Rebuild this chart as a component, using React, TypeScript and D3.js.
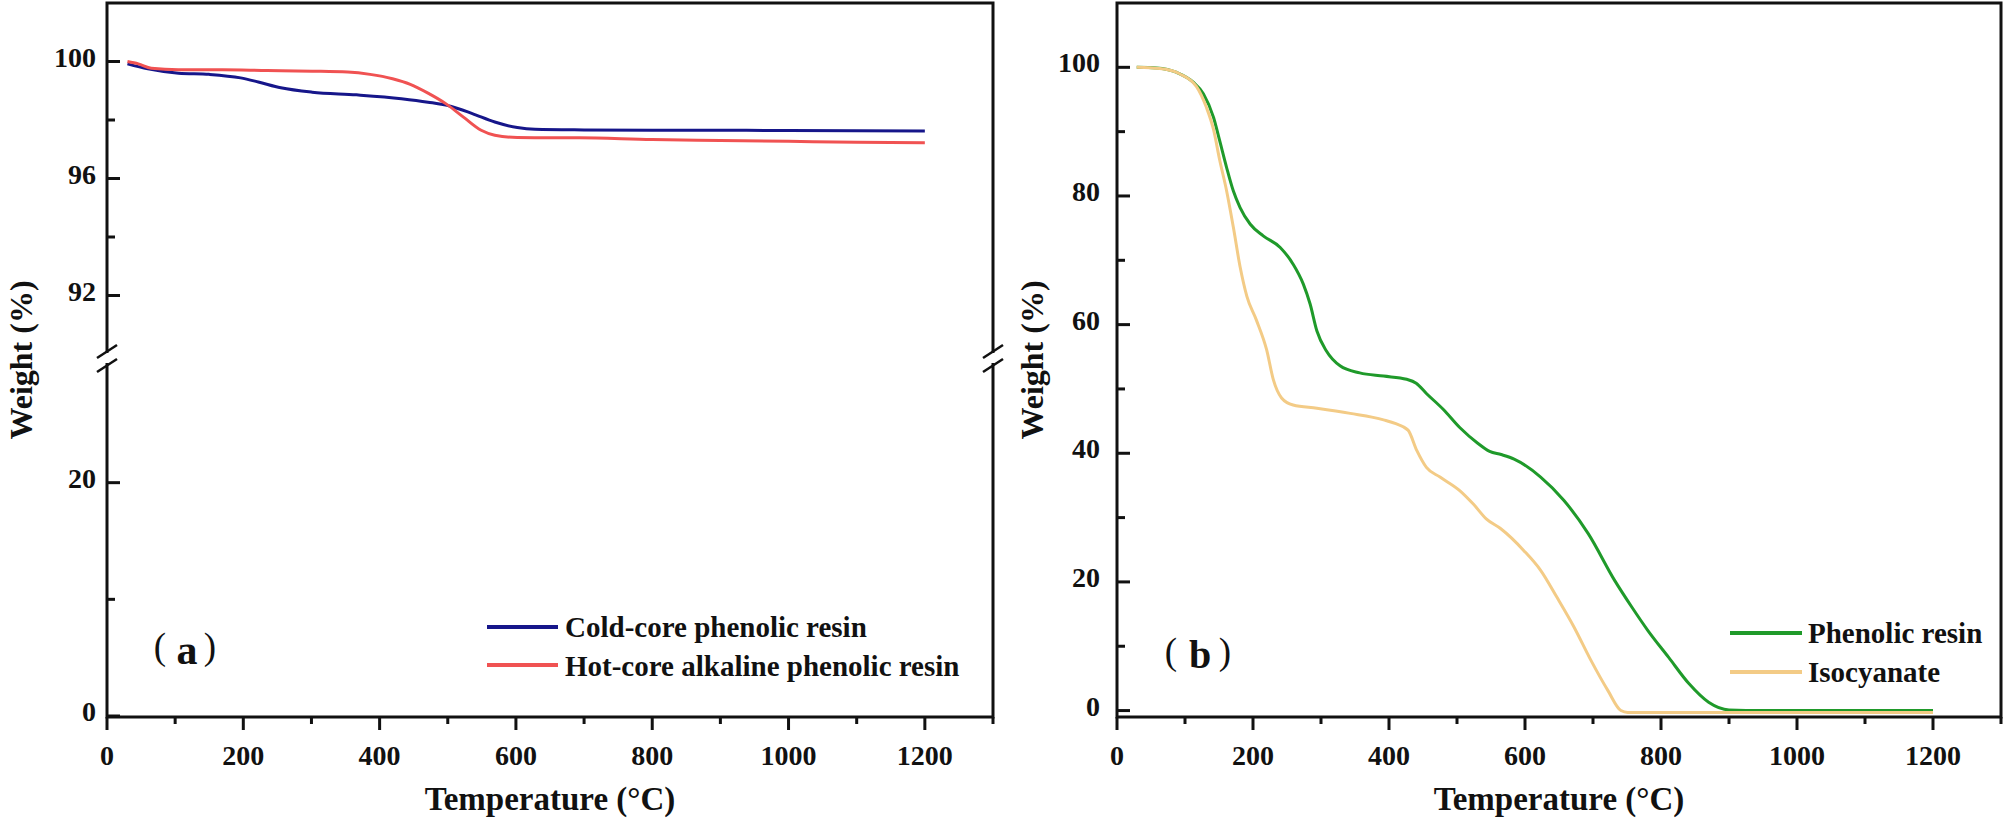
import * as d3 from "d3";

// ---- data ----
const coldT = [30, 60, 105, 150, 196, 222, 255, 301, 366, 432, 471, 504, 536, 569, 602, 628, 700, 800, 900, 1000, 1100, 1200];
const coldW = [99.92, 99.75, 99.6, 99.56, 99.44, 99.3, 99.1, 98.95, 98.86, 98.73, 98.61, 98.47, 98.22, 97.93, 97.74, 97.68, 97.66, 97.65, 97.65, 97.64, 97.63, 97.62];

const hotT = [30, 46, 65, 105, 170, 235, 301, 353, 386, 419, 445, 471, 497, 523, 549, 569, 602, 693, 800, 900, 1000, 1100, 1200];
const hotW = [100.0, 99.92, 99.77, 99.72, 99.72, 99.69, 99.67, 99.64, 99.56, 99.41, 99.22, 98.92, 98.56, 98.1, 97.65, 97.48, 97.4, 97.39, 97.33, 97.3, 97.27, 97.24, 97.22];

const phenT = [29, 58, 88, 112, 127, 142, 151, 161, 171, 181, 196, 215, 240, 259, 274, 284, 294, 308, 328, 357, 392, 426, 440, 455, 480, 504, 530, 548, 565, 584, 623, 657, 693, 732, 757, 781, 811, 841, 870, 900, 950, 1000, 1100, 1200];
const phenW = [100, 99.9, 99.2, 97.7, 95.9, 92.2, 88.6, 84.5, 80.8, 78.2, 75.6, 73.8, 72.0, 69.4, 66.3, 63.2, 59.0, 55.9, 53.6, 52.5, 52.0, 51.5, 50.9, 49.3, 46.8, 44.0, 41.6, 40.3, 39.8, 39.1, 36.3, 32.7, 27.5, 20.2, 16.1, 12.4, 8.3, 4.2, 1.3, 0.1, 0, 0, 0, 0];

const isoT = [29, 63, 92, 117, 131, 142, 151, 161, 171, 181, 191, 205, 220, 230, 242, 259, 294, 343, 392, 410, 428, 441, 455, 475, 504, 524, 543, 564, 598, 623, 647, 672, 697, 722, 741, 751, 800, 900, 1000, 1100, 1200];
const isoW = [100, 99.8, 99.0, 97.0, 93.9, 90.3, 85.6, 80.9, 75.2, 69.0, 64.4, 60.7, 56.1, 51.4, 48.6, 47.5, 47.0, 46.2, 45.2, 44.6, 43.6, 40.4, 37.8, 36.3, 34.2, 32.1, 29.8, 28.3, 24.9, 21.8, 17.6, 13.0, 7.8, 3.1, 0.0, -0.3, -0.3, -0.3, -0.3, -0.3, -0.3];

const xMajor = [0, 200, 400, 600, 800, 1000, 1200];
const xMinor = [100, 300, 500, 700, 900, 1100, 1300];
const upperMajor = [92, 96, 100];
const upperMinor = [94, 98];
const lowerMajor = [0, 20];
const lowerMinor = [10];
const rightMajor = [0, 20, 40, 60, 80, 100];
const rightMinor = [10, 30, 50, 70, 90];

const legendA = ["Cold-core phenolic resin", "Hot-core alkaline phenolic resin"];
const legendB = ["Phenolic resin", "Isocyanate"];

const FONT = "'Times New Roman', 'Liberation Serif', serif";
const BLUE = "#16168a";
const RED = "#f05252";
const GREEN = "#1f9a2a";
const TAN = "#f3cb86";

const TOP = 3;
const BOTTOM = 717;

export default function App() {
  // left panel scales (broken y axis)
  const xA = d3.scaleLinear().domain([0, 1300]).range([107, 993]);
  const yUp = d3.scaleLinear().domain([90, 102]).range([354, TOP]);
  const yLow = d3.scaleLinear().domain([0, 30]).range([716, 366]);
  // right panel scales
  const xB = d3.scaleLinear().domain([0, 1300]).range([1117, 2001]);
  const yB = d3.scaleLinear().domain([-1, 110]).range([BOTTOM, TOP]);

  const lineA = (T: number[], W: number[]) =>
    d3
      .line<number>()
      .x((_, i) => xA(T[i]))
      .y((d) => yUp(d))
      .curve(d3.curveMonotoneX)(W) as string;
  const lineB = (T: number[], W: number[]) =>
    d3
      .line<number>()
      .x((_, i) => xB(T[i]))
      .y((d) => yB(d))
      .curve(d3.curveMonotoneX)(W) as string;

  const xTicks = (x: d3.ScaleLinear<number, number>) => (
    <g>
      {xMajor.map((t) => (
        <g key={"M" + t}>
          <line x1={x(t)} x2={x(t)} y1={BOTTOM} y2={BOTTOM + 13} stroke="#111" strokeWidth={3} />
          <text x={x(t)} y={765} textAnchor="middle" fontSize={28}>
            {t}
          </text>
        </g>
      ))}
      {xMinor.map((t) => (
        <line key={"m" + t} x1={x(t)} x2={x(t)} y1={BOTTOM} y2={BOTTOM + 7} stroke="#111" strokeWidth={3} />
      ))}
    </g>
  );

  const yTicks = (
    y: d3.ScaleLinear<number, number>,
    x0: number,
    major: number[],
    minor: number[],
    gap: number
  ) => (
    <g>
      {major.map((t) => (
        <g key={"M" + t}>
          <line x1={x0} x2={x0 + 13} y1={y(t)} y2={y(t)} stroke="#111" strokeWidth={3} />
          <text x={x0 - gap} y={y(t) + 5} textAnchor="end" fontSize={28}>
            {t}
          </text>
        </g>
      ))}
      {minor.map((t) => (
        <line key={"m" + t} x1={x0} x2={x0 + 8} y1={y(t)} y2={y(t)} stroke="#111" strokeWidth={3} />
      ))}
    </g>
  );

  const breakMark = (x: number) => (
    <g>
      <rect x={x - 4} y={353} width={8} height={10} fill="#fff" />
      <line x1={x - 10} y1={358} x2={x + 10} y2={345} stroke="#111" strokeWidth={2.5} />
      <line x1={x - 10} y1={372} x2={x + 10} y2={359} stroke="#111" strokeWidth={2.5} />
    </g>
  );

  return (
    <svg
      width={2008}
      height={823}
      style={{ position: "absolute", left: 0, top: 0, background: "#fff" }}
      fontFamily={FONT}
      fontWeight="bold"
      fill="#111"
    >
      {/* ---------- panel (a) ---------- */}
      <path d={lineA(coldT, coldW)} fill="none" stroke={BLUE} strokeWidth={3} />
      <path d={lineA(hotT, hotW)} fill="none" stroke={RED} strokeWidth={3} />
      <rect x={107} y={TOP} width={993 - 107} height={BOTTOM - TOP} fill="none" stroke="#111" strokeWidth={3} />
      {xTicks(xA)}
      {yTicks(yUp, 107, upperMajor, upperMinor, 11)}
      {yTicks(yLow, 107, lowerMajor, lowerMinor, 11)}
      {breakMark(107)}
      {breakMark(993)}
      <text x={(107 + 993) / 2} y={810} textAnchor="middle" fontSize={33}>
        Temperature (°C)
      </text>
      <text transform="translate(32,360) rotate(-90)" textAnchor="middle" fontSize={32}>
        Weight (%)
      </text>
      <text x={160} y={659} textAnchor="middle" fontSize={37} fontWeight="normal">(</text>
      <text x={187} y={664} textAnchor="middle" fontSize={42}>a</text>
      <text x={210} y={659} textAnchor="middle" fontSize={37} fontWeight="normal">)</text>
      {legendA.map((label, i) => (
        <g key={label}>
          <line x1={487} x2={558} y1={627 + i * 38} y2={627 + i * 38} stroke={i === 0 ? BLUE : RED} strokeWidth={4} />
          <text x={565} y={637 + i * 39} fontSize={29}>
            {label}
          </text>
        </g>
      ))}

      {/* ---------- panel (b) ---------- */}
      <path d={lineB(phenT, phenW)} fill="none" stroke={GREEN} strokeWidth={3} />
      <path d={lineB(isoT, isoW)} fill="none" stroke={TAN} strokeWidth={3} />
      <rect x={1117} y={TOP} width={2001 - 1117} height={BOTTOM - TOP} fill="none" stroke="#111" strokeWidth={3} />
      {xTicks(xB)}
      {yTicks(yB, 1117, rightMajor, rightMinor, 17)}
      <text x={(1117 + 2001) / 2} y={810} textAnchor="middle" fontSize={33}>
        Temperature (°C)
      </text>
      <text transform="translate(1043,360) rotate(-90)" textAnchor="middle" fontSize={32}>
        Weight (%)
      </text>
      <text x={1171} y={664} textAnchor="middle" fontSize={37} fontWeight="normal">(</text>
      <text x={1200} y={668} textAnchor="middle" fontSize={40}>b</text>
      <text x={1225} y={664} textAnchor="middle" fontSize={37} fontWeight="normal">)</text>
      {legendB.map((label, i) => (
        <g key={label}>
          <line x1={1730} x2={1802} y1={633 + i * 39} y2={633 + i * 39} stroke={i === 0 ? GREEN : TAN} strokeWidth={4} />
          <text x={1808} y={643 + i * 39} fontSize={29}>
            {label}
          </text>
        </g>
      ))}
    </svg>
  );
}
